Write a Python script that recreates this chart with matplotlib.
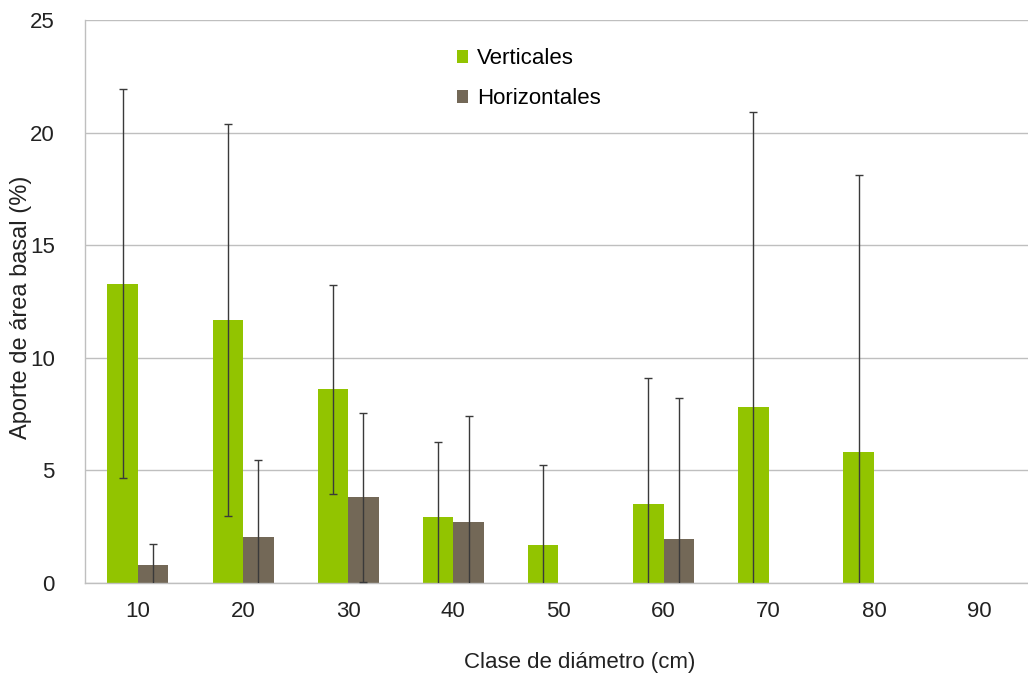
import numpy as np
import matplotlib
matplotlib.use('Agg')
import matplotlib.pyplot as plt

plt.rcParams['font.family'] = ['Liberation Sans', 'DejaVu Sans']

clases = ['10', '20', '30', '40', '50', '60', '70', '80', '90']
verticales = [13.3, 11.7, 8.6, 2.95, 1.7, 3.5, 7.8, 5.8, 0]
err_vert = [8.65, 8.7, 4.65, 3.3, 3.55, 5.6, 13.1, 12.3, 0]
horizontales = [0.8, 2.05, 3.8, 2.7, 0, 1.95, 0, 0, 0]
err_hor = [0.95, 3.4, 3.75, 4.7, 0, 6.25, 0, 0, 0]

c_vert = '#92C400'
c_hor = '#736857'
grid_c = '#BFBFBF'
txt_c = '#222222'
fs = 16

fig = plt.figure(figsize=(10.28, 6.78), dpi=100)
ax = fig.add_axes([0.0830, 0.140, 0.9205, 0.8305])

x = np.arange(len(clases))
w = 0.29

ax.bar(x - w/2, verticales, w, color=c_vert, label='Verticales', zorder=2)
ax.bar(x + w/2, horizontales, w, color=c_hor, label='Horizontales', zorder=2)

v = np.array(verticales)
h = np.array(horizontales)
mv = v > 0
mh = h > 0
ax.errorbar((x - w/2)[mv], v[mv], yerr=np.array(err_vert)[mv], fmt='none',
            ecolor='#3A3A3A', elinewidth=1, capsize=3, capthick=1, zorder=3)
ax.errorbar((x + w/2)[mh], h[mh], yerr=np.array(err_hor)[mh], fmt='none',
            ecolor='#3A3A3A', elinewidth=1, capsize=3, capthick=1, zorder=3)

ax.set_xlim(-0.5, len(clases) - 0.5)
ax.set_ylim(0, 25)
ax.set_yticks([0, 5, 10, 15, 20, 25])
ax.set_xticks(x)
ax.set_xticklabels(clases)
ax.yaxis.grid(True, color=grid_c, linewidth=1, zorder=0)
ax.set_axisbelow(True)

for s in ['top', 'right']:
    ax.spines[s].set_visible(False)
for s in ['left', 'bottom']:
    ax.spines[s].set_color(grid_c)
    ax.spines[s].set_linewidth(1)

ax.tick_params(axis='y', length=0, labelsize=fs, labelcolor=txt_c, pad=22)
ax.tick_params(axis='x', length=0, labelsize=fs, labelcolor=txt_c, pad=13)

ax.set_ylabel('Aporte de área basal (%)', fontsize=17, color=txt_c)
ax.set_xlabel('Clase de diámetro (cm)', fontsize=fs, color=txt_c)
ax.yaxis.set_label_coords(-0.056, 0.49)
ax.xaxis.set_label_coords(0.522, -0.122)

ax.legend(loc='upper left', bbox_to_anchor=(0.372, 0.985), frameon=False, fontsize=fs,
          handlelength=0.5, handleheight=0.5, handletextpad=0.4, labelspacing=0.85)

fig.savefig('out.png', dpi=100)
